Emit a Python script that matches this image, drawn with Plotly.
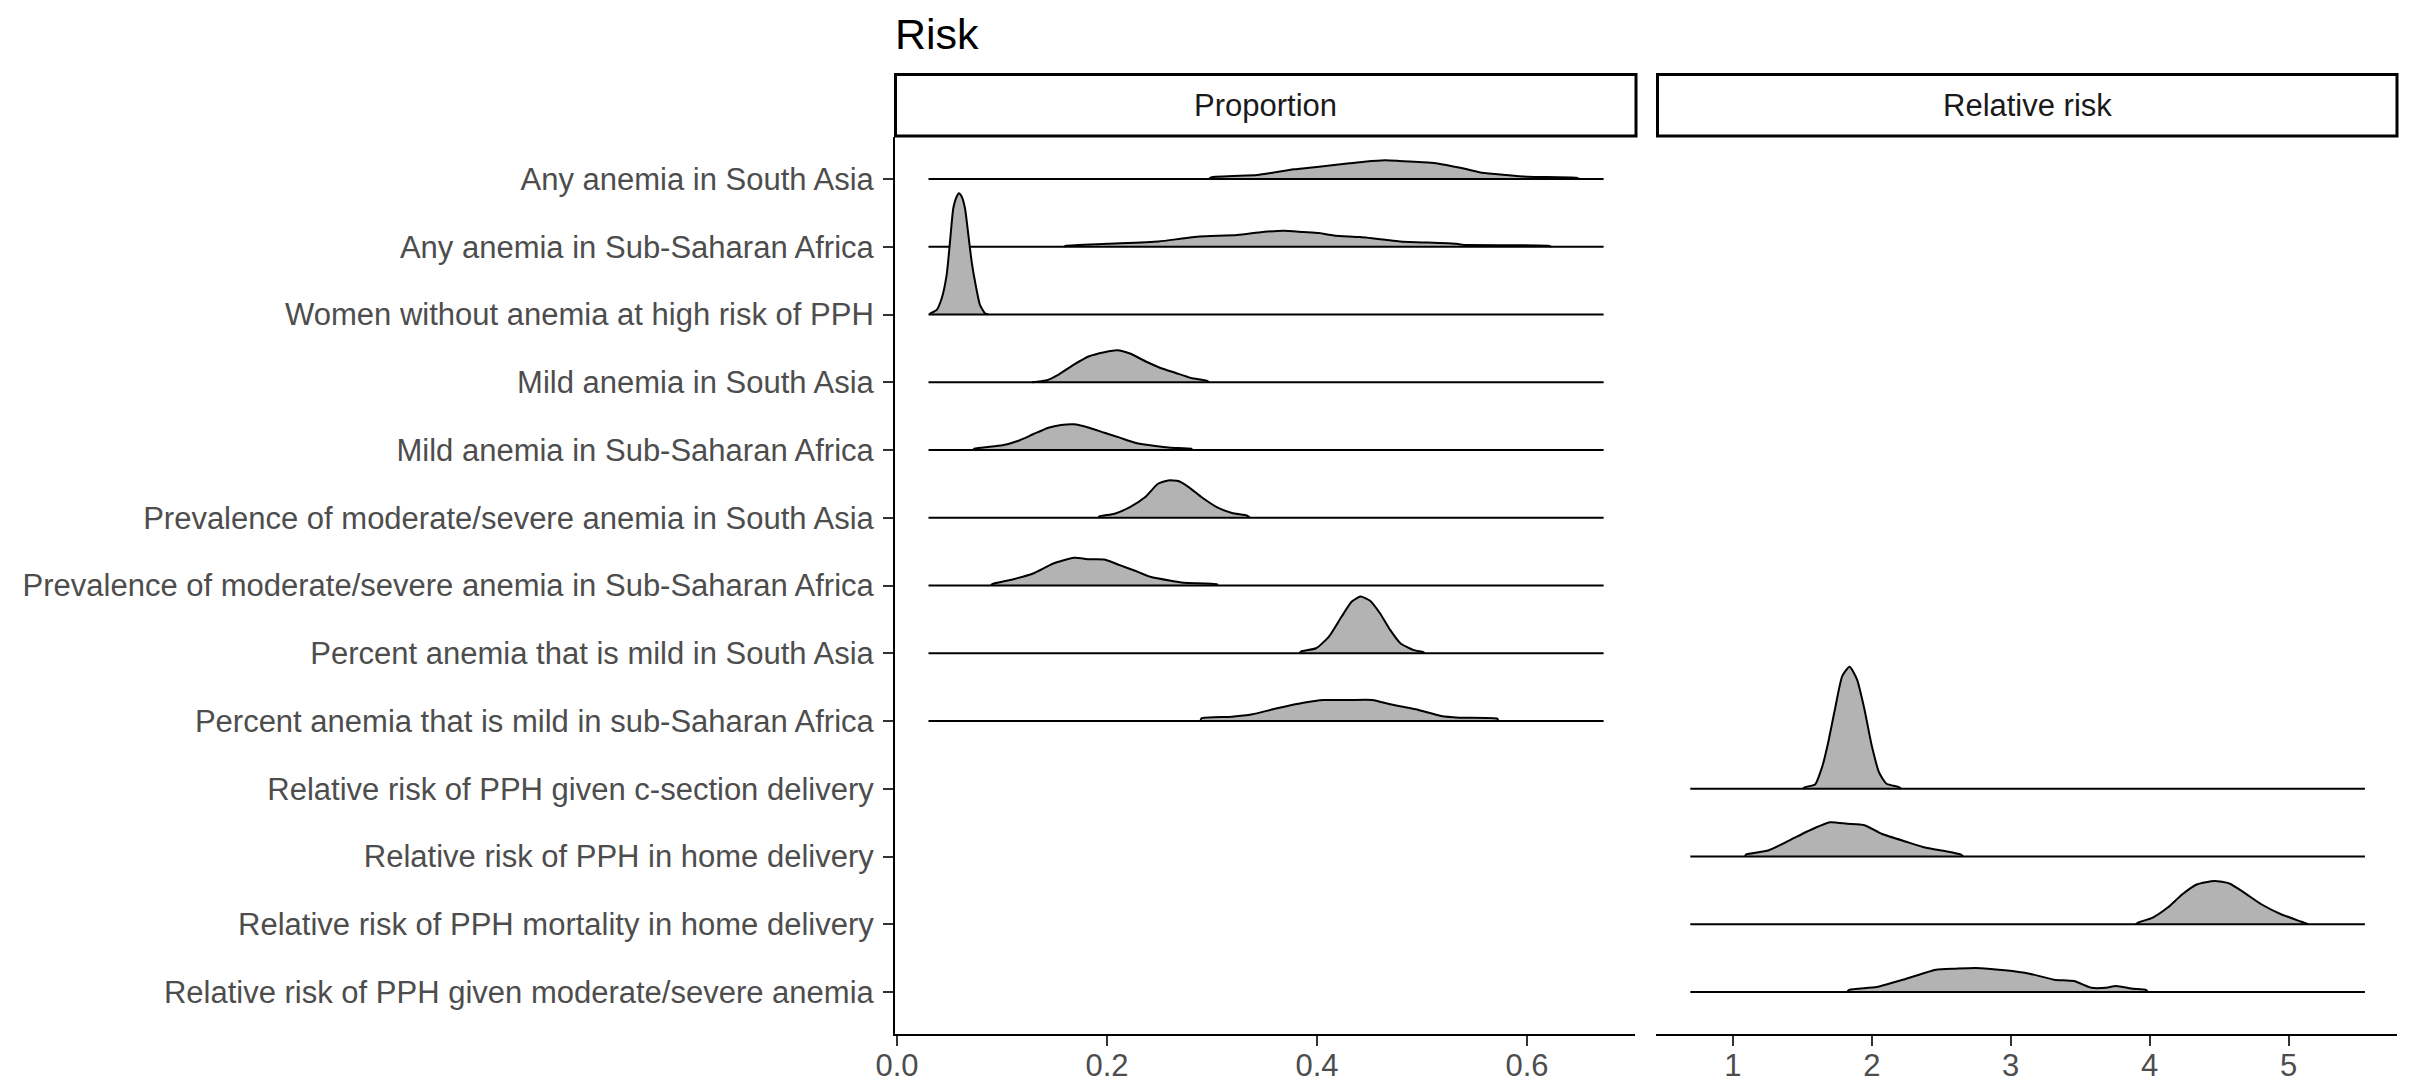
import plotly.graph_objects as go

# The page body has an 8px default margin; the figure is sized to fill the rest of the window.
OFF = 8
FW, FH = 2413 - OFF, 1084 - OFF

# Row labels, top to bottom
categories = [
    "Any anemia in South Asia",
    "Any anemia in Sub-Saharan Africa",
    "Women without anemia at high risk of PPH",
    "Mild anemia in South Asia",
    "Mild anemia in Sub-Saharan Africa",
    "Prevalence of moderate/severe anemia in South Asia",
    "Prevalence of moderate/severe anemia in Sub-Saharan Africa",
    "Percent anemia that is mild in South Asia",
    "Percent anemia that is mild in sub-Saharan Africa",
    "Relative risk of PPH given c-section delivery",
    "Relative risk of PPH in home delivery",
    "Relative risk of PPH mortality in home delivery",
    "Relative risk of PPH given moderate/severe anemia",
]
panel = ["Proportion"] * 9 + ["Relative risk"] * 4
panels = ["Proportion", "Relative risk"]

# Density ridge outlines: x values and heights (row units)
ridge_x = [
    [0.297, 0.299, 0.343, 0.358, 0.378, 0.402, 0.431, 0.445, 0.465, 0.479, 0.509, 0.523, 0.543, 0.557, 0.581, 0.601, 0.647, 0.650],
    [0.159, 0.161, 0.200, 0.249, 0.270, 0.288, 0.324, 0.348, 0.368, 0.387, 0.402, 0.416, 0.441, 0.465, 0.479, 0.533, 0.538, 0.620, 0.623],
    [0.0314, 0.0378, 0.0426, 0.0473, 0.0505, 0.0536, 0.0569, 0.0590, 0.0616, 0.0648, 0.0679, 0.0711, 0.0743, 0.0790, 0.0838, 0.0870],
    [0.1286, 0.1417, 0.1539, 0.1685, 0.183, 0.1976, 0.2097, 0.2219, 0.2365, 0.251, 0.2656, 0.2802, 0.2948, 0.2972],
    [0.0727, 0.0737, 0.1004, 0.115, 0.1296, 0.1442, 0.1563, 0.1685, 0.183, 0.1976, 0.2122, 0.2268, 0.2462, 0.2608, 0.2802, 0.2812],
    [0.1918, 0.1928, 0.2073, 0.2219, 0.2365, 0.2486, 0.2583, 0.2681, 0.2778, 0.2899, 0.3045, 0.319, 0.3336, 0.3361],
    [0.0897, 0.0907, 0.1101, 0.1296, 0.149, 0.1685, 0.183, 0.1976, 0.2122, 0.2268, 0.2413, 0.2608, 0.273, 0.3045, 0.3055],
    [0.3832, 0.3847, 0.3992, 0.4114, 0.4235, 0.4332, 0.4415, 0.4503, 0.46, 0.4697, 0.4794, 0.4916, 0.5013, 0.5028],
    [0.289, 0.29, 0.319, 0.3385, 0.358, 0.3871, 0.4066, 0.4309, 0.4527, 0.4697, 0.494, 0.5183, 0.5353, 0.5717, 0.5727],
    [1.5025, 1.5205, 1.591, 1.644, 1.680, 1.734, 1.787, 1.840, 1.893, 1.947, 2.000, 2.053, 2.106, 2.195, 2.212],
    [1.087, 1.094, 1.254, 1.396, 1.538, 1.698, 1.822, 1.947, 2.071, 2.248, 2.390, 2.532, 2.639, 2.657],
    [3.899, 3.917, 4.023, 4.130, 4.236, 4.343, 4.467, 4.574, 4.680, 4.804, 4.946, 5.088, 5.141],
    [1.822, 1.840, 2.035, 2.248, 2.461, 2.603, 2.745, 2.958, 3.135, 3.313, 3.455, 3.580, 3.686, 3.757, 3.881, 3.970, 3.988],
]
ridge_h = [
    [0, 0.025, 0.059, 0.093, 0.143, 0.182, 0.232, 0.255, 0.276, 0.266, 0.241, 0.207, 0.143, 0.093, 0.059, 0.034, 0.019, 0],
    [0, 0.015, 0.044, 0.078, 0.118, 0.152, 0.173, 0.217, 0.236, 0.217, 0.202, 0.167, 0.143, 0.103, 0.078, 0.044, 0.030, 0.015, 0],
    [0.010, 0.069, 0.241, 0.586, 1.077, 1.565, 1.742, 1.790, 1.742, 1.565, 1.181, 0.782, 0.487, 0.143, 0.019, 0],
    [0, 0.025, 0.114, 0.261, 0.384, 0.443, 0.472, 0.424, 0.310, 0.211, 0.137, 0.063, 0.025, 0],
    [0, 0.019, 0.069, 0.133, 0.232, 0.329, 0.369, 0.379, 0.329, 0.255, 0.182, 0.108, 0.059, 0.034, 0.019, 0],
    [0, 0.019, 0.059, 0.158, 0.306, 0.502, 0.551, 0.542, 0.453, 0.306, 0.158, 0.069, 0.030, 0],
    [0, 0.019, 0.089, 0.177, 0.325, 0.409, 0.388, 0.384, 0.300, 0.217, 0.128, 0.069, 0.040, 0.019, 0],
    [0, 0.025, 0.074, 0.246, 0.542, 0.763, 0.837, 0.778, 0.590, 0.344, 0.148, 0.049, 0.015, 0],
    [0, 0.040, 0.063, 0.099, 0.173, 0.270, 0.310, 0.310, 0.310, 0.246, 0.173, 0.074, 0.049, 0.034, 0],
    [0, 0.025, 0.063, 0.335, 0.630, 1.170, 1.663, 1.801, 1.613, 1.170, 0.630, 0.236, 0.074, 0.025, 0],
    [0, 0.030, 0.089, 0.226, 0.373, 0.506, 0.483, 0.462, 0.335, 0.217, 0.128, 0.078, 0.030, 0],
    [0, 0.025, 0.099, 0.246, 0.443, 0.590, 0.639, 0.601, 0.468, 0.295, 0.148, 0.040, 0],
    [0, 0.034, 0.074, 0.196, 0.329, 0.344, 0.354, 0.320, 0.270, 0.182, 0.162, 0.063, 0.063, 0.089, 0.049, 0.034, 0],
]
# Extent of the density grid in each panel
panel_xmin = [0.030, 0.693]
panel_xmax = [0.673, 5.550]

x_ticks_left = [0.0, 0.2, 0.4, 0.6]
x_ticktext_left = ["0.0", "0.2", "0.4", "0.6"]
x_ticks_right = [1, 2, 3, 4, 5]
x_ticktext_right = ["1", "2", "3", "4", "5"]

FONT = "Liberation Sans, Arial, Helvetica, sans-serif"
FILL = "#B3B3B3"

fig = go.Figure()
n = len(categories)
positions = [n - i for i in range(n)]

for i, cat in enumerate(categories):
    p = panels.index(panel[i])
    xa = "x" if p == 0 else "x2"
    ya = "y" if p == 0 else "y2"
    base = positions[i]
    # filled density ridge
    xs = list(ridge_x[i])
    ys = [base + h for h in ridge_h[i]]
    xs = [xs[0]] + xs + [xs[-1]]
    ys = [base] + ys + [base]
    fig.add_trace(go.Scatter(
        x=xs, y=ys, mode="lines", xaxis=xa, yaxis=ya,
        line=dict(color="black", width=2, shape="spline", smoothing=0.55),
        fill="toself", fillcolor=FILL, hoverinfo="skip", showlegend=False,
    ))
    # flat baseline across the panel's density range
    fig.add_trace(go.Scatter(
        x=[panel_xmin[p], panel_xmax[p]], y=[base, base], mode="lines",
        xaxis=xa, yaxis=ya, line=dict(color="black", width=2),
        hoverinfo="skip", showlegend=False,
    ))


def px(v):
    return (v - OFF) / FW


def py(v):
    return 1 - (v - OFF) / FH


ydom = [py(1034), py(137)]
yrange = [0.38, 13.62]
tickfont = dict(family=FONT, size=31, color="#4D4D4D")

fig.update_layout(
    width=FW, height=FH,
    margin=dict(l=0, r=0, t=0, b=0),
    paper_bgcolor="white", plot_bgcolor="white",
    showlegend=False,
    xaxis=dict(domain=[px(895), px(1635)], range=[-0.0019, 0.7029],
               tickvals=x_ticks_left, ticktext=x_ticktext_left,
               showline=True, linecolor="black", linewidth=2,
               ticks="outside", ticklen=10, tickwidth=2, tickcolor="#333333",
               ticklabelstandoff=-7,
               showgrid=False, zeroline=False, tickfont=tickfont, automargin=False),
    xaxis2=dict(domain=[px(1656), px(2397)], range=[0.446, 5.781],
                tickvals=x_ticks_right, ticktext=x_ticktext_right,
                showline=True, linecolor="black", linewidth=2,
                ticks="outside", ticklen=10, tickwidth=2, tickcolor="#333333",
                ticklabelstandoff=-7,
                showgrid=False, zeroline=False, tickfont=tickfont, automargin=False),
    yaxis=dict(domain=ydom, range=yrange, anchor="x",
               tickvals=positions, ticktext=categories,
               showline=True, linecolor="black", linewidth=2,
               ticks="outside", ticklen=10, tickwidth=2, tickcolor="#333333",
               ticklabelstandoff=3,
               showgrid=False, zeroline=False, tickfont=tickfont, automargin=False),
    yaxis2=dict(domain=ydom, range=yrange, anchor="x2",
                showticklabels=False, showline=False, ticks="",
                showgrid=False, zeroline=False),
)

# Facet strips
strip_boxes = [(895.5, 1636), (1657.5, 2397)]
for (x0, x1), name in zip(strip_boxes, panels):
    fig.add_shape(type="rect", xref="paper", yref="paper",
                  x0=px(x0), x1=px(x1), y0=py(136), y1=py(74.5),
                  line=dict(color="black", width=3), fillcolor="white", layer="above")
    fig.add_annotation(text=name, xref="paper", yref="paper",
                       x=px((x0 + x1) / 2), y=py(105), xanchor="center", yanchor="middle",
                       showarrow=False, font=dict(family=FONT, size=31, color="#1A1A1A"))

fig.add_annotation(text="Risk", xref="paper", yref="paper",
                   x=px(893), y=1.0, xanchor="left", yanchor="top",
                   showarrow=False, font=dict(family=FONT, size=43, color="black"))

fig.write_html("out.html")
